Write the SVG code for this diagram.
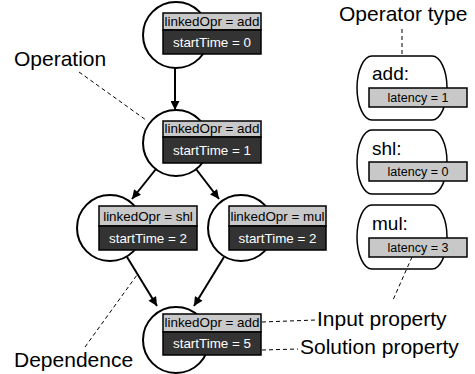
<svg xmlns="http://www.w3.org/2000/svg" width="475" height="374" viewBox="0 0 475 374">
<defs>
<style>
.circ{fill:#fff;stroke:#000;stroke-width:2}
.top{fill:#c8c8c8;stroke:#000;stroke-width:1.5}
.bot{fill:#333;stroke:#000;stroke-width:1.5}
.tt{font-family:"Liberation Sans",Arial,sans-serif;font-size:13.4px;fill:#000;text-anchor:middle}
.bt{font-family:"Liberation Sans",Arial,sans-serif;font-size:13.4px;fill:#fff;text-anchor:middle}
.lbl{font-family:"Liberation Sans",Arial,sans-serif;font-size:21px;fill:#000}
.opn{font-family:"Liberation Sans",Arial,sans-serif;font-size:19px;fill:#000}
.lat{fill:#c8c8c8;stroke:#000;stroke-width:1.5}
.latt{font-family:"Liberation Sans",Arial,sans-serif;font-size:12.5px;fill:#000;text-anchor:middle}
.barrel{fill:#fff;stroke:#000;stroke-width:1.5}
.edge{stroke:#000;stroke-width:2;fill:none;marker-end:url(#ah)}
.dash{stroke:#000;stroke-width:1;stroke-dasharray:4,3;fill:none}
</style>
<marker id="ah" viewBox="0 0 10 10" refX="10" refY="5" markerWidth="5" markerHeight="4.5" orient="auto" markerUnits="strokeWidth">
<path d="M0,0 L10,5 L0,10 z" fill="#000"/>
</marker>
</defs>

<g id="connectors">
<line class="edge" x1="175" y1="68" x2="175" y2="110"/>
<line class="edge" x1="156" y1="169" x2="132" y2="199"/>
<line class="edge" x1="196" y1="169" x2="219" y2="199"/>
<line class="edge" x1="127" y1="257" x2="157" y2="306"/>
<line class="edge" x1="224" y1="257" x2="194" y2="306"/>
</g>

<g id="node1">
<circle class="circ" cx="176" cy="35" r="33"/>
<rect class="top" x="163" y="13" width="98" height="17"/>
<rect class="bot" x="163" y="30" width="98" height="24"/>
<text class="tt" x="212" y="26">linkedOpr = add</text>
<text class="bt" x="212" y="47">startTime = 0</text>
</g>

<g id="node2">
<circle class="circ" cx="176" cy="143" r="33"/>
<rect class="top" x="163" y="121" width="98" height="16"/>
<rect class="bot" x="163" y="137" width="98" height="26"/>
<text class="tt" x="212" y="133">linkedOpr = add</text>
<text class="bt" x="212" y="155">startTime = 1</text>
</g>

<g id="node3">
<circle class="circ" cx="110" cy="228" r="33"/>
<rect class="top" x="99" y="206" width="98" height="20"/>
<rect class="bot" x="99" y="226" width="98" height="24"/>
<text class="tt" x="148" y="221">linkedOpr = shl</text>
<text class="bt" x="148" y="243">startTime = 2</text>
</g>

<g id="node4">
<circle class="circ" cx="241" cy="228" r="33"/>
<rect class="top" x="229" y="206" width="97" height="20"/>
<rect class="bot" x="229" y="226" width="97" height="24"/>
<text class="tt" x="277.5" y="221">linkedOpr = mul</text>
<text class="bt" x="277.5" y="243">startTime = 2</text>
</g>

<g id="node5">
<circle class="circ" cx="176" cy="340" r="33"/>
<rect class="top" x="163" y="314" width="98" height="18"/>
<rect class="bot" x="163" y="332" width="98" height="23"/>
<text class="tt" x="212" y="327">linkedOpr = add</text>
<text class="bt" x="212" y="348">startTime = 5</text>
</g>

<g id="type-add">
<path class="barrel" d="M372,56 H432 A15,32 0 0 1 432,120 H372 A15,32 0 0 1 372,56 Z"/>
<text class="opn" x="372" y="80">add:</text>
<rect class="lat" x="369" y="88" width="98" height="19"/>
<text class="latt" x="418" y="102">latency = 1</text>
</g>

<g id="type-shl">
<path class="barrel" d="M372,130 H432 A15,32 0 0 1 432,194 H372 A15,32 0 0 1 372,130 Z"/>
<text class="opn" x="372" y="155">shl:</text>
<rect class="lat" x="369" y="162" width="98" height="19"/>
<text class="latt" x="418" y="176">latency = 0</text>
</g>

<g id="type-mul">
<path class="barrel" d="M372,205 H432 A15,32 0 0 1 432,269 H372 A15,32 0 0 1 372,205 Z"/>
<text class="opn" x="372" y="230">mul:</text>
<rect class="lat" x="369" y="238" width="98" height="19"/>
<text class="latt" x="418" y="252">latency = 3</text>
</g>

<g id="annotations">
<line class="dash" x1="79" y1="72" x2="146" y2="120"/>
<line class="dash" x1="85" y1="347" x2="137" y2="275"/>
<line class="dash" x1="402" y1="29" x2="402" y2="56"/>
<line class="dash" x1="412" y1="257" x2="393" y2="300"/>
<line class="dash" x1="262" y1="322" x2="316" y2="320"/>
<line class="dash" x1="262" y1="350" x2="298" y2="349"/>
<text class="lbl" x="14" y="66">Operation</text>
<text class="lbl" x="14" y="367">Dependence</text>
<text class="lbl" x="339" y="21">Operator type</text>
<text class="lbl" x="317" y="326">Input property</text>
<text class="lbl" x="300" y="354">Solution property</text>
</g>
</svg>
